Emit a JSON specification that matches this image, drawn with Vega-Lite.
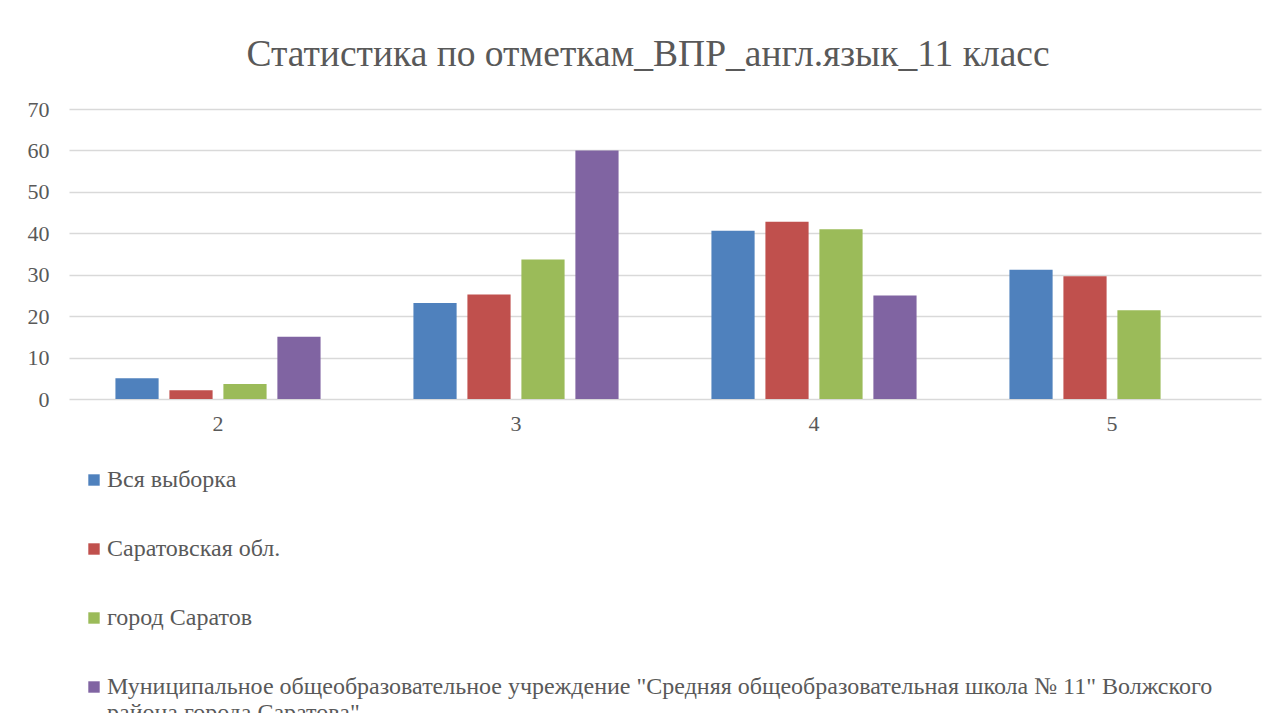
{
  "$schema": "https://vega.github.io/schema/vega-lite/v6.json",
  "autosize": "none",
  "width": 1192,
  "height": 290,
  "padding": {"left": 69, "top": 109, "right": 19, "bottom": 314},
  "background": "white",
  "title": {
    "text": "Статистика по отметкам_ВПР_англ.язык_11 класс",
    "font": "Liberation Serif",
    "fontSize": 37.5,
    "fontWeight": "normal",
    "color": "#595959",
    "anchor": "middle",
    "offset": 25,
    "dx": -17
  },
  "data": {
    "values": [
      {"grade": "2", "series": "Вся выборка", "value": 5.0},
      {"grade": "2", "series": "Саратовская обл.", "value": 2.1},
      {"grade": "2", "series": "город Саратов", "value": 3.6},
      {"grade": "2", "series": "Муниципальное общеобразовательное учреждение \"Средняя общеобразовательная школа № 11\" Волжского района города Саратова\"", "value": 15.0},
      {"grade": "3", "series": "Вся выборка", "value": 23.2},
      {"grade": "3", "series": "Саратовская обл.", "value": 25.2},
      {"grade": "3", "series": "город Саратов", "value": 33.7},
      {"grade": "3", "series": "Муниципальное общеобразовательное учреждение \"Средняя общеобразовательная школа № 11\" Волжского района города Саратова\"", "value": 60.0},
      {"grade": "4", "series": "Вся выборка", "value": 40.6},
      {"grade": "4", "series": "Саратовская обл.", "value": 42.8},
      {"grade": "4", "series": "город Саратов", "value": 41.0},
      {"grade": "4", "series": "Муниципальное общеобразовательное учреждение \"Средняя общеобразовательная школа № 11\" Волжского района города Саратова\"", "value": 25.0},
      {"grade": "5", "series": "Вся выборка", "value": 31.2},
      {"grade": "5", "series": "Саратовская обл.", "value": 29.6},
      {"grade": "5", "series": "город Саратов", "value": 21.4}
    ]
  },
  "mark": {"type": "bar"},
  "encoding": {
    "x": {
      "field": "grade",
      "type": "nominal",
      "scale": {"paddingInner": 0, "paddingOuter": 0},
      "axis": {
        "title": null,
        "labelAngle": 0,
        "domain": false,
        "ticks": false,
        "grid": false,
        "labelFont": "Liberation Serif",
        "labelFontSize": 22,
        "labelColor": "#595959",
        "labelPadding": 14
      }
    },
    "xOffset": {
      "field": "series",
      "type": "nominal",
      "sort": null,
      "scale": {"paddingInner": 0.2, "paddingOuter": 0.86}
    },
    "y": {
      "field": "value",
      "type": "quantitative",
      "scale": {"domain": [0, 70], "nice": false},
      "axis": {
        "title": null,
        "values": [0, 10, 20, 30, 40, 50, 60, 70],
        "domain": false,
        "ticks": false,
        "gridColor": "#d9d9d9",
        "gridWidth": 1.5,
        "labelFont": "Liberation Serif",
        "labelFontSize": 22,
        "labelColor": "#595959",
        "labelPadding": 20
      }
    },
    "color": {
      "field": "series",
      "type": "nominal",
      "sort": null,
      "scale": {
        "domain": [
          "Вся выборка",
          "Саратовская обл.",
          "город Саратов",
          "Муниципальное общеобразовательное учреждение \"Средняя общеобразовательная школа № 11\" Волжского района города Саратова\""
        ],
        "range": ["#4f81bd", "#c0504d", "#9bbb59", "#8064a2"]
      },
      "legend": {
        "title": null,
        "orient": "none",
        "legendX": 13,
        "legendY": 359,
        "direction": "vertical",
        "symbolType": "square",
        "symbolSize": 130,
        "symbolStrokeWidth": 0,
        "labelFont": "Liberation Serif",
        "labelFontSize": 24,
        "labelColor": "#595959",
        "labelOffset": 1,
        "labelLimit": 1250,
        "rowPadding": 45,
        "labelExpr": "test(/^Муниципальное/, datum.label) ? ['Муниципальное общеобразовательное учреждение \"Средняя общеобразовательная школа № 11\" Волжского', 'района города Саратова\"'] : datum.label"
      }
    }
  },
  "config": {
    "view": {"stroke": null}
  }
}
